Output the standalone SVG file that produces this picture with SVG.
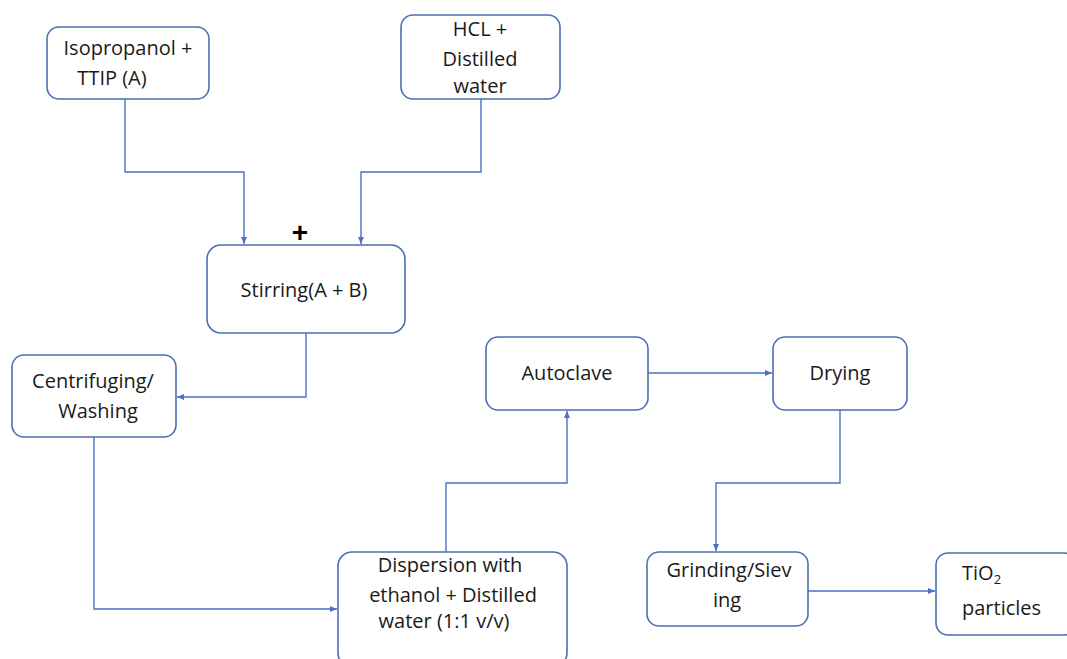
<svg xmlns="http://www.w3.org/2000/svg" width="1067" height="659" viewBox="0 0 1067 659">
<defs>
<marker id="ah" markerWidth="8" markerHeight="8" refX="7" refY="4" orient="auto" markerUnits="userSpaceOnUse">
<path d="M0,1 L7,4 L0,7 Z" fill="#4a72c4"/>
</marker>
<style>
.box{fill:#fff;stroke:#4a6fb5;stroke-width:1.6}
.t{font-family:"Open Sans","Liberation Sans",sans-serif;font-size:20px;fill:#1a1a1a;text-anchor:middle}
.tl{font-family:"Open Sans","Liberation Sans",sans-serif;font-size:20px;fill:#1a1a1a}
.c{fill:none;stroke:#4a72c4;stroke-width:1.4;marker-end:url(#ah)}
</style>
</defs>
<rect width="1067" height="659" fill="#fff"/>
<g id="connectors">
<path class="c" d="M125,99 V172 H244 V244"/>
<path class="c" d="M481,99 V172 H361 V244"/>
<path class="c" d="M306,333 V397 H177"/>
<path class="c" d="M94,437 V609 H337"/>
<path class="c" d="M446,552 V483 H567 V411"/>
<path class="c" d="M648,373 H772"/>
<path class="c" d="M840,410 V483 H716 V551"/>
<path class="c" d="M808,591 H935"/>
</g>
<g id="plus"><text x="300" y="242" font-family="Liberation Sans, sans-serif" font-size="28" font-weight="bold" text-anchor="middle" fill="#000">+</text></g>
<g id="n1"><rect class="box" x="47" y="27" width="162" height="72" rx="12"/>
<text class="t" x="128" y="55">Isopropanol +</text><text class="t" x="112" y="85">TTIP (A)</text></g>
<g id="n2"><rect class="box" x="401" y="15" width="159" height="84" rx="12"/>
<text class="t" x="480" y="36">HCL +</text><text class="t" x="480" y="66">Distilled</text><text class="t" x="480" y="93">water</text></g>
<g id="n3"><rect class="box" x="207" y="245" width="198" height="88" rx="14"/>
<text class="t" x="304" y="297">Stirring(A + B)</text></g>
<g id="n4"><rect class="box" x="12" y="355" width="164" height="82" rx="12"/>
<text class="t" x="93" y="388">Centrifuging/</text><text class="t" x="98" y="418">Washing</text></g>
<g id="n5"><rect class="box" x="338" y="552" width="229" height="115" rx="14"/>
<text class="t" x="450" y="572">Dispersion with</text><text class="t" x="453" y="602">ethanol + Distilled</text><text class="t" x="444" y="628">water (1:1 v/v)</text></g>
<g id="n6"><rect class="box" x="486" y="337" width="162" height="73" rx="12"/>
<text class="t" x="567" y="380">Autoclave</text></g>
<g id="n7"><rect class="box" x="773" y="337" width="134" height="73" rx="12"/>
<text class="t" x="840" y="380">Drying</text></g>
<g id="n8"><rect class="box" x="647" y="552" width="161" height="74" rx="12"/>
<text class="t" x="729" y="577">Grinding/Siev</text><text class="t" x="727" y="607">ing</text></g>
<g id="n9"><rect class="box" x="936" y="553" width="140" height="82" rx="12"/>
<text class="tl" x="962" y="580">TiO<tspan font-size="13" dy="4">2</tspan></text><text class="tl" x="962" y="615">particles</text></g>
</svg>
